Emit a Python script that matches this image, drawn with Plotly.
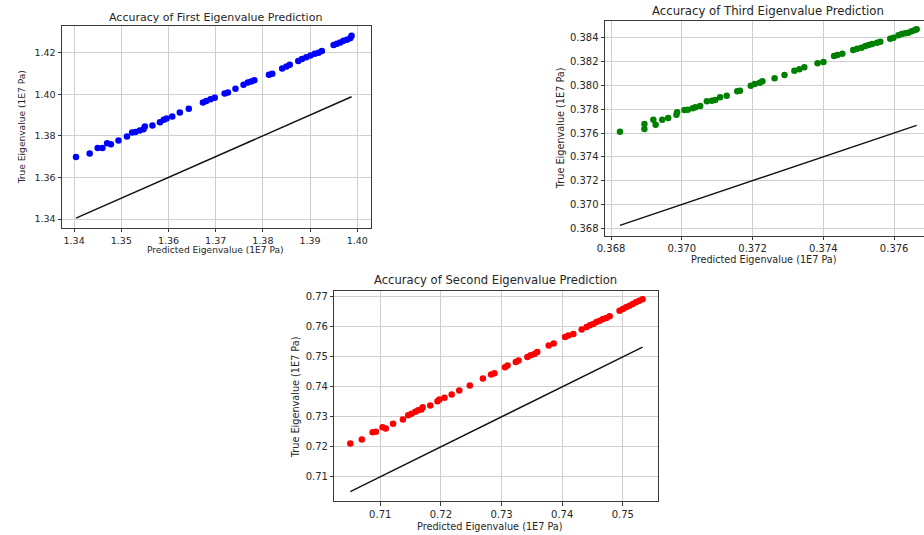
import plotly.graph_objects as go

W, H = 924, 535

# ---- First eigenvalue (blue) ----
pred_first = [1.3404, 1.3433, 1.3450, 1.3460, 1.3470, 1.3478, 1.3494, 1.3512, 1.3523, 1.3530,
              1.3539, 1.3547, 1.3550, 1.3566, 1.3582, 1.3590, 1.3596, 1.3608, 1.3624, 1.3643,
              1.3673, 1.3680, 1.3689, 1.3698, 1.3719, 1.3726, 1.3742, 1.3759, 1.3768, 1.3775,
              1.3782, 1.3813, 1.3820, 1.3841, 1.3850, 1.3857, 1.3875, 1.3883, 1.3892, 1.3901,
              1.3910, 1.3918, 1.3925, 1.3950, 1.3957, 1.3964, 1.3971, 1.3978, 1.3985, 1.3988]
true_first = [1.3698, 1.3715, 1.3742, 1.3742, 1.3764, 1.3759, 1.3778, 1.3797, 1.3816, 1.3819,
              1.3826, 1.3832, 1.3845, 1.3850, 1.3866, 1.3877, 1.3884, 1.3893, 1.3912, 1.3930,
              1.3960, 1.3968, 1.3976, 1.3983, 1.4004, 1.4008, 1.4027, 1.4046, 1.4056, 1.4061,
              1.4067, 1.4094, 1.4099, 1.4124, 1.4134, 1.4142, 1.4160, 1.4170, 1.4178, 1.4187,
              1.4195, 1.4200, 1.4208, 1.4237, 1.4243, 1.4249, 1.4257, 1.4262, 1.4269, 1.4282]

# ---- Third eigenvalue (green) ----
pred_third = [0.368252, 0.368943, 0.368943, 0.369195, 0.369260, 0.369447, 0.369615, 0.369848,
              0.369867, 0.370075, 0.370168, 0.370308, 0.370383, 0.370520, 0.370707, 0.370847,
              0.370941, 0.371081, 0.371268, 0.371566, 0.371641, 0.371949, 0.372061, 0.372201,
              0.372276, 0.372621, 0.372901, 0.373181, 0.373321, 0.373461, 0.373835, 0.374002,
              0.374301, 0.374395, 0.374535, 0.374843, 0.374955, 0.375076, 0.375188, 0.375281,
              0.375375, 0.375515, 0.375608, 0.375888, 0.375981, 0.376121, 0.376214, 0.376308,
              0.376401, 0.376494, 0.376588, 0.376635]
true_third = [0.376112, 0.376755, 0.376336, 0.377119, 0.376699, 0.377119, 0.377259, 0.377538,
              0.377734, 0.377930, 0.377958, 0.378070, 0.378154, 0.378266, 0.378657, 0.378713,
              0.378769, 0.378993, 0.379133, 0.379497, 0.379552, 0.379972, 0.380112, 0.380224,
              0.380336, 0.380587, 0.380867, 0.381231, 0.381343, 0.381510, 0.381846, 0.381958,
              0.382462, 0.382546, 0.382657, 0.382965, 0.383077, 0.383161, 0.383301, 0.383385,
              0.383469, 0.383580, 0.383664, 0.383916, 0.384000, 0.384196, 0.384308, 0.384364,
              0.384420, 0.384531, 0.384643, 0.384699]

# ---- Second eigenvalue (red) ----
pred_second = [0.70506, 0.70696, 0.70875, 0.70929, 0.71038, 0.71092, 0.71212, 0.71374, 0.71461,
               0.71516, 0.71581, 0.71624, 0.71678, 0.71700, 0.71825, 0.71944, 0.71976, 0.72060,
               0.72178, 0.72303, 0.72477, 0.72693, 0.72829, 0.72883, 0.73057, 0.73100, 0.73236,
               0.73280, 0.73426, 0.73480, 0.73545, 0.73589, 0.73779, 0.73860, 0.74049, 0.74103,
               0.74184, 0.74322, 0.74403, 0.74457, 0.74512, 0.74566, 0.74620, 0.74674, 0.74729,
               0.74783, 0.74946, 0.75000, 0.75054, 0.75109, 0.75163, 0.75217, 0.75271, 0.75326]
true_second = [0.72111, 0.72244, 0.72489, 0.72500, 0.72656, 0.72611, 0.72767, 0.72911, 0.73056,
               0.73100, 0.73167, 0.73222, 0.73244, 0.73322, 0.73378, 0.73522, 0.73578, 0.73633,
               0.73744, 0.73878, 0.74044, 0.74278, 0.74411, 0.74456, 0.74656, 0.74711, 0.74833,
               0.74878, 0.75000, 0.75056, 0.75100, 0.75167, 0.75378, 0.75444, 0.75667, 0.75711,
               0.75767, 0.75911, 0.76000, 0.76056, 0.76100, 0.76167, 0.76211, 0.76267, 0.76300,
               0.76356, 0.76544, 0.76600, 0.76656, 0.76711, 0.76767, 0.76822, 0.76878, 0.76922]

titles = ["Accuracy of First Eigenvalue Prediction",
          "Accuracy of Third Eigenvalue Prediction",
          "Accuracy of Second Eigenvalue Prediction"]
x_label = "Predicted Eigenvalue (1E7 Pa)"
y_label = "True Eigenvalue (1E7 Pa)"

FONT = "DejaVu Sans"
TXT = "#262626"

panels = [
    dict(px=pred_first, py=true_first, color="#0000ff",
         box=(54.5, 365.7, 25.7, 227.7), xr=[1.33744, 1.40282], yr=[1.33582, 1.43298],
         xd=0.01, yd=0.02, xf=".2f", yf=".2f", tick=9.5, lab=9.1, tit=11,
         title_xy=(209, 17), xl_xy=(209, 250), yl_xy=(15, 127.5), mirror_y=True),
    dict(px=pred_third, py=true_third, color="#008000",
         box=(602.3, 924, 20.7, 235.7), xr=[0.367832, 0.376843], yr=[0.367379, 0.385427],
         xd=0.002, yd=0.002, xf=".3f", yf=".3f", tick=10, lab=9.7, tit=11.7,
         title_xy=(766.7, 10.5), xl_xy=(762.5, 259), yl_xy=(556.7, 128.3), mirror_y=False),
    dict(px=pred_second, py=true_second, color="#ff0000",
         box=(329.3, 655.7, 291, 501), xr=[0.70245, 0.75581], yr=[0.7019, 0.7720],
         xd=0.01, yd=0.01, xf=".2f", yf=".2f", tick=10, lab=9.7, tit=11.6,
         title_xy=(491.3, 280), xl_xy=(486.7, 526.7), yl_xy=(290, 396.7), mirror_y=True),
]

fig = go.Figure()
annotations = []
for i, p in enumerate(panels):
    n = "" if i == 0 else str(i + 1)
    xa, ya = "x" + n, "y" + n
    fig.add_trace(go.Scatter(x=p["px"], y=p["py"], mode="markers",
                             marker=dict(color=p["color"], size=6.5, line=dict(width=0)),
                             xaxis=xa, yaxis=ya, showlegend=False))
    lo, hi = min(p["px"]), max(p["px"])
    fig.add_trace(go.Scatter(x=[lo, hi], y=[lo, hi], mode="lines",
                             line=dict(color="#111111", width=1.4),
                             xaxis=xa, yaxis=ya, showlegend=False))
    l, r, t, b = p["box"]
    common = dict(showgrid=True, gridcolor="#cfcfcf", gridwidth=1, zeroline=False,
                  showline=True, linecolor="#3a3a3a", linewidth=1,
                  ticks="outside", ticklen=3.5, tickcolor="#3a3a3a", tickwidth=1,
                  tickfont=dict(family=FONT, size=p["tick"], color=TXT))
    fig.layout["xaxis" + n] = dict(domain=[l / W, r / W], range=p["xr"], anchor=ya,
                                   dtick=p["xd"], tick0=0, tickformat=p["xf"], mirror=True,
                                   **common)
    fig.layout["yaxis" + n] = dict(domain=[1 - b / H, 1 - t / H], range=p["yr"], anchor=xa,
                                   dtick=p["yd"], tick0=0, tickformat=p["yf"],
                                   mirror=p["mirror_y"], **common)
    tx, ty = p["title_xy"]
    annotations.append(dict(text=titles[i], x=tx / W, y=1 - ty / H, xref="paper", yref="paper",
                            xanchor="center", yanchor="middle", showarrow=False,
                            font=dict(family=FONT, size=p["tit"], color=TXT)))
    lx, ly = p["xl_xy"]
    annotations.append(dict(text=x_label, x=lx / W, y=1 - ly / H, xref="paper", yref="paper",
                            xanchor="center", yanchor="middle", showarrow=False,
                            font=dict(family=FONT, size=p["lab"], color=TXT)))
    yx, yy = p["yl_xy"]
    annotations.append(dict(text=y_label, x=yx / W, y=1 - yy / H, xref="paper", yref="paper",
                            xanchor="center", yanchor="middle", showarrow=False, textangle=-90,
                            font=dict(family=FONT, size=p["lab"], color=TXT)))

fig.update_layout(width=W, height=H, margin=dict(l=0, r=0, t=0, b=0),
                  paper_bgcolor="white", plot_bgcolor="white",
                  annotations=annotations, showlegend=False)

fig.write_html("out.html",
               config={"displayModeBar": False},
               post_script="document.documentElement.style.margin='0';"
                           "document.body.style.margin='0';"
                           "document.body.style.padding='0';"
                           "document.body.style.overflow='hidden';")
